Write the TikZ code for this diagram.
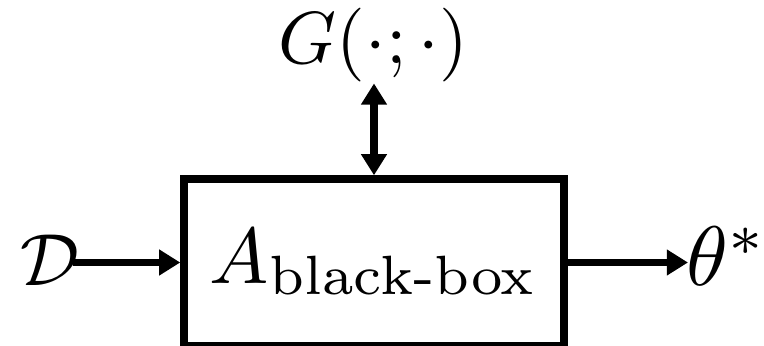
\documentclass[tikz,border=0pt]{standalone}
\usepackage{amsmath}
\usepackage{graphicx}
\usetikzlibrary{arrows.meta}

\tikzset{
    lbl/.style={inner sep=0pt, scale=#1},
    lbl/.default=2.1,
    flow/.style={line width=2.1pt, -{Triangle[length=6pt,width=7pt]}},
}

\begin{document}
\begin{tikzpicture}
    \useasboundingbox (0,0) rectangle (7.64,3.46);

    % the black box
    \node[draw, line width=2.1pt, minimum width=3.8cm, minimum height=1.665cm,
          inner sep=0pt] (bbox) at (3.74,0.8375)
          {\scalebox{2.25}{$A_{\text{black-box}}$}};

    % data in, parameters out
    \node[lbl, anchor=base west] (data) at (0.19,0.60) {$\mathcal{D}$};
    \node[lbl=2.4, anchor=base west] (theta) at (6.85,0.60) {$\theta^*$};

    % oracle on top
    \node[lbl, anchor=base] (oracle) at (3.735,2.825) {$G(\cdot;\cdot)$};

    % Arrows
    \draw[flow, shorten <=-0.08cm] (data.east |- 0,0.835) -- (bbox.west |- 0,0.835);
    \draw[flow, shorten >=-0.03cm] (bbox.east |- 0,0.835) -- (theta.west |- 0,0.835);
    \draw[flow, {Triangle[length=6pt,width=7pt]}-{Triangle[length=6pt,width=7pt]}]
        (bbox.north) -- (oracle.south -| bbox.north);
\end{tikzpicture}
\end{document}
